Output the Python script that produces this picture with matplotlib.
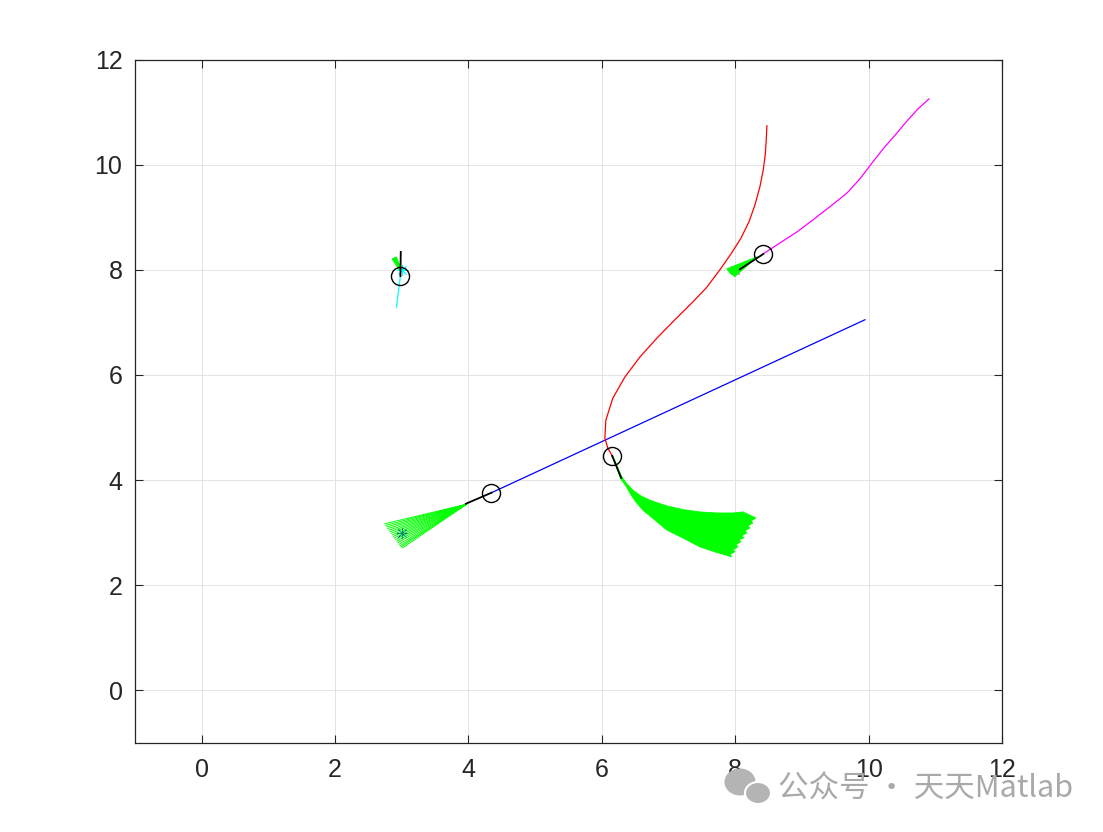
import numpy as np
import matplotlib
matplotlib.use('Agg')
import matplotlib.pyplot as plt
from matplotlib.patches import Ellipse, Polygon

# robot trajectories
blue_x = [4.345, 9.945]
blue_y = [3.76, 7.05]

red_x = [8.475, 8.465, 8.45, 8.42, 8.37, 8.295, 8.205, 8.085, 7.935, 7.77,
         7.575, 7.35, 7.095, 6.825, 6.57, 6.345, 6.165, 6.06, 6.045, 6.09, 6.155]
red_y = [10.74, 10.47, 10.19, 9.90, 9.58, 9.23, 8.91, 8.60, 8.30, 8.00,
         7.67, 7.37, 7.05, 6.70, 6.34, 5.96, 5.56, 5.14, 4.80, 4.61, 4.46]

magenta_x = [8.415, 8.67, 8.925, 9.165, 9.42, 9.675, 9.87, 10.05, 10.23,
             10.41, 10.575, 10.74, 10.905]
magenta_y = [8.30, 8.51, 8.72, 8.95, 9.20, 9.46, 9.73, 10.03, 10.32,
             10.58, 10.83, 11.06, 11.25]

cyan_x = [2.92, 2.98]
cyan_y = [7.29, 7.88]

# current robot positions and heading line tips
pos_x = [4.345, 6.155, 8.42, 2.98]
pos_y = [3.76, 4.46, 8.30, 7.88]
head_x = [3.96, 6.29, 8.07, 2.985]
head_y = [3.55, 4.04, 8.01, 8.34]

# goals
goal_x = [3, 8, 8, 3]
goal_y = [3, 3, 8, 8]
goal_colors = ['#0000ff', '#ff0000', '#ff00ff', '#00ffff']

# candidate trajectories of the blue robot (apex + end points)
fan1_apex = (3.97, 3.54)
fan1_end_x = [2.745, 2.76, 2.775, 2.79, 2.81, 2.825, 2.84, 2.86, 2.875, 2.89,
              2.91, 2.925, 2.94, 2.96, 2.975, 2.99, 3.01]
fan1_end_y = [3.17, 3.14, 3.11, 3.08, 3.05, 3.02, 2.99, 2.96, 2.93, 2.90,
              2.87, 2.84, 2.81, 2.78, 2.75, 2.73, 2.71]

# candidate trajectories of the red robot (outline)
fan2_x = [6.16, 6.30, 6.375, 6.465, 6.585, 6.72, 6.84, 6.975, 7.215, 7.47,
          7.725, 7.965, 8.115,
          8.31, 8.235, 8.265, 8.19, 8.22, 8.145, 8.175, 8.10, 8.13, 8.055,
          8.085, 8.01, 8.04, 7.965, 7.995, 7.92, 7.95,
          7.695, 7.47, 7.245, 6.975, 6.795, 6.615, 6.51, 6.42, 6.36, 6.285]
fan2_y = [4.48, 4.06, 3.93, 3.81, 3.70, 3.62, 3.565, 3.51, 3.44, 3.395,
          3.375, 3.375, 3.395,
          3.28, 3.22, 3.185, 3.13, 3.09, 3.035, 3.00, 2.94, 2.90, 2.865,
          2.83, 2.77, 2.73, 2.675, 2.64, 2.58, 2.54,
          2.635, 2.73, 2.88, 3.05, 3.24, 3.43, 3.585, 3.755, 3.89, 4.02]

# candidate trajectories of the magenta and cyan robots (outline)
fan3_x = [8.33, 7.875, 7.92, 7.995]
fan3_y = [8.25, 8.02, 7.94, 7.87]
fan4_x = [2.96, 2.855, 2.92, 2.985]
fan4_y = [8.00, 8.21, 8.245, 8.04]

fig = plt.figure(figsize=(11.03, 8.32), dpi=100)
fig.patch.set_facecolor('white')
ax = fig.add_axes([135 / 1103, 89 / 832, 867 / 1103, 683.5 / 832])

ax.plot(blue_x, blue_y, color='#0000ff', lw=0.9)
ax.plot(red_x, red_y, color='#ff0000', lw=0.9)
ax.plot(magenta_x, magenta_y, color='#ff00ff', lw=0.9)
ax.plot(cyan_x, cyan_y, color='#00ffff', lw=0.9)

for gx, gy, c in zip(goal_x, goal_y, goal_colors):
    ax.plot(gx, gy, marker=(8, 2, 0), color=c, ms=8, mew=0.6, ls='none', zorder=1.8)

green = '#00ff00'
for ex, ey in zip(fan1_end_x, fan1_end_y):
    ax.plot([fan1_apex[0], ex], [fan1_apex[1], ey], color=green, lw=0.7, zorder=2.2)
for fx, fy in [(fan2_x, fan2_y), (fan3_x, fan3_y), (fan4_x, fan4_y)]:
    ax.add_patch(Polygon(np.column_stack([fx, fy]), closed=True, zorder=2.2,
                         facecolor=green, edgecolor=green, lw=0.6))

for px, py, hx, hy in zip(pos_x, pos_y, head_x, head_y):
    ax.plot([px, hx], [py, hy], '-k', lw=1.3, zorder=2.5)
ax.plot(pos_x, pos_y, 'ok', mfc='none', ms=13, mew=1.0, ls='none', zorder=2.6)

ax.set_xlim(-1, 12)
ax.set_ylim(-1, 12)
ax.set_xticks(np.arange(0, 13, 2))
ax.set_yticks(np.arange(0, 13, 2))
ax.grid(True, color='#e3e3e3', lw=0.7)
ax.set_axisbelow(True)
ax.tick_params(direction='in', length=6, width=0.8, top=True, right=True,
               labelsize=18, colors='#262626')
ax.tick_params(axis='x', pad=11)
ax.tick_params(axis='y', pad=9)
for lab in ax.get_xticklabels() + ax.get_yticklabels():
    lab.set_family('Liberation Sans')
for s in ax.spines.values():
    s.set_linewidth(0.9)
    s.set_color('#262626')

# watermark
fig.patches.append(Ellipse((740 / 1103, 1 - 782 / 832), 31 / 1103, 27 / 832,
                           transform=fig.transFigure, facecolor='#b4b4b4',
                           edgecolor='none'))
fig.patches.append(Ellipse((758 / 1103, 1 - 793 / 832), 26 / 1103, 22 / 832,
                           transform=fig.transFigure, facecolor='#b4b4b4',
                           edgecolor='white', lw=1.5))
fig.text(778 / 1103, 1 - 789 / 832, '公众号 · 天天Matlab', va='center', ha='left',
         fontsize=22, color='#a9a9a9', family=['Noto Sans CJK SC', 'DejaVu Sans'])

fig.savefig('out.png', dpi=100)
